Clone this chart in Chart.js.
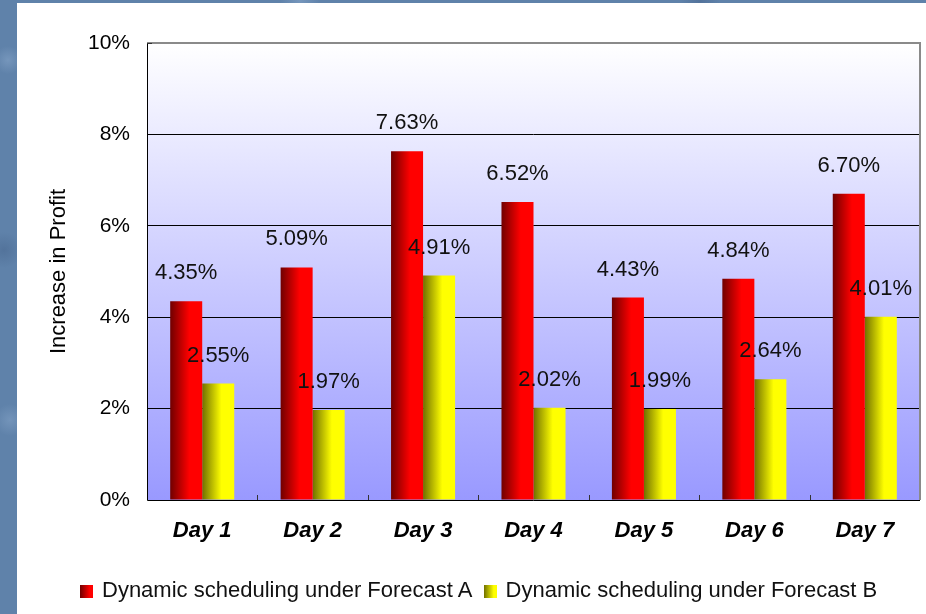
<!DOCTYPE html>
<html>
<head>
<meta charset="utf-8">
<script src="https://cdn.jsdelivr.net/npm/chart.js@4.4.1/dist/chart.umd.min.js"></script>
<style>
  html, body { margin: 0; padding: 0; }
  body {
    width: 926px; height: 614px; overflow: hidden; position: relative;
    background-color: #5f82aa;
    background-image:
      radial-gradient(circle at 8px 60px, rgba(140,170,205,0.5), transparent 14px),
      radial-gradient(circle at 4px 250px, rgba(70,100,140,0.5), transparent 18px),
      radial-gradient(circle at 10px 420px, rgba(140,170,205,0.45), transparent 16px),
      radial-gradient(circle at 300px 1px, rgba(140,170,205,0.5), transparent 20px),
      radial-gradient(circle at 700px 1px, rgba(70,100,140,0.5), transparent 20px);
  }
  #panel {
    position: absolute; left: 17px; top: 3px; right: 0; bottom: 0;
    background: #fff;
  }
  #wrap { position: absolute; left: 0; top: 0; width: 926px; height: 614px; }
  #legend {
    position: absolute; left: 80px; top: 577px;
    font-family: "Liberation Sans", Arial, sans-serif; font-size: 22px; color: #111;
    white-space: nowrap;
  }
  #legend span.box {
    display: inline-block; width: 13px; height: 13px; margin-right: 9px;
    vertical-align: -1px;
  }
  #legend span.item { margin-right: 11px; }
</style>
</head>
<body>
<div id="panel"></div>
<div id="wrap"><canvas id="myChart" width="926" height="614"></canvas></div>
<div id="legend"></div>
<script>
const days = ['Day 1', 'Day 2', 'Day 3', 'Day 4', 'Day 5', 'Day 6', 'Day 7'];
const forecastA = [4.35, 5.09, 7.63, 6.52, 4.43, 4.84, 6.70];
const forecastB = [2.55, 1.97, 4.91, 2.02, 1.99, 2.64, 4.01];
const seriesNames = ['Dynamic scheduling under Forecast A', 'Dynamic scheduling under Forecast B'];
const seriesShades = [['#700000', '#ff0000'], ['#707000', '#ffff00']];

const CAT_PCT = 0.58;
const FONT = '"Liberation Sans", Arial, sans-serif';

// left-to-right shading of each bar, built from the x scale
function barFill(dark, light) {
  return (ctx) => {
    const chart = ctx.chart;
    const area = chart.chartArea;
    if (!area || ctx.type !== 'data') return light;
    const xs = chart.scales.x;
    const center = xs.getPixelForValue(ctx.dataIndex);
    const w = (area.width / days.length) * CAT_PCT / 2;
    const left = ctx.datasetIndex === 0 ? center - w : center;
    const g = chart.ctx.createLinearGradient(left, 0, left + w, 0);
    g.addColorStop(0, dark);
    g.addColorStop(0.6, light);
    g.addColorStop(1, light);
    return g;
  };
}

const plotBackground = {
  id: 'plotBackground',
  beforeDraw(chart) {
    const {ctx, chartArea: a} = chart;
    const g = ctx.createLinearGradient(0, a.top, 0, a.bottom);
    g.addColorStop(0, '#ffffff');
    g.addColorStop(1, '#9999ff');
    ctx.save();
    ctx.fillStyle = g;
    ctx.fillRect(a.left, a.top, a.width, a.height);
    ctx.restore();
  },
  afterDraw(chart) {
    const {ctx, chartArea: a} = chart;
    const xs = chart.scales.x;
    ctx.save();
    // grey frame on top and right
    ctx.strokeStyle = '#8a8a8a';
    ctx.lineWidth = 2;
    ctx.beginPath();
    ctx.moveTo(a.left, a.top);
    ctx.lineTo(a.right, a.top);
    ctx.lineTo(a.right, a.bottom);
    ctx.stroke();
    // black axes
    ctx.strokeStyle = '#000';
    ctx.lineWidth = 1;
    ctx.beginPath();
    ctx.moveTo(a.left + 0.5, a.top);
    ctx.lineTo(a.left + 0.5, a.bottom + 0.5);
    ctx.lineTo(a.right, a.bottom + 0.5);
    ctx.stroke();
    // small inner ticks between categories
    ctx.strokeStyle = '#333';
    ctx.beginPath();
    for (let i = 1; i < days.length; i++) {
      const x = Math.round((xs.getPixelForValue(i - 1) + xs.getPixelForValue(i)) / 2) + 0.5;
      ctx.moveTo(x, a.bottom);
      ctx.lineTo(x, a.bottom - 5);
    }
    ctx.moveTo(a.left, a.top + 0.5);
    ctx.lineTo(a.left + 5, a.top + 0.5);
    ctx.stroke();
    ctx.restore();
  }
};

const valueLabels = {
  id: 'valueLabels',
  afterDatasetsDraw(chart) {
    const ctx = chart.ctx;
    ctx.save();
    ctx.font = '22px ' + FONT;
    ctx.fillStyle = '#111';
    ctx.textAlign = 'center';
    ctx.textBaseline = 'middle';
    chart.data.datasets.forEach((ds, di) => {
      chart.getDatasetMeta(di).data.forEach((el, i) => {
        ctx.fillText(ds.data[i].toFixed(2) + '%', el.x, el.y - 28);
      });
    });
    ctx.restore();
  }
};

new Chart(document.getElementById('myChart'), {
  type: 'bar',
  data: {
    labels: days,
    datasets: [
      {
        label: seriesNames[0],
        data: forecastA,
        backgroundColor: barFill(seriesShades[0][0], seriesShades[0][1]),
        categoryPercentage: CAT_PCT,
        barPercentage: 1
      },
      {
        label: seriesNames[1],
        data: forecastB,
        backgroundColor: barFill(seriesShades[1][0], seriesShades[1][1]),
        categoryPercentage: CAT_PCT,
        barPercentage: 1
      }
    ]
  },
  options: {
    responsive: false,
    animation: false,
    layout: { padding: { left: 29, top: 43, right: 6, bottom: 54 } },
    plugins: {
      legend: { display: false },
      tooltip: { enabled: false }
    },
    scales: {
      x: {
        grid: { display: false, drawTicks: false },
        border: { display: false },
        ticks: {
          padding: 18,
          color: '#000',
          font: { family: FONT, size: 22, weight: 'bold', style: 'italic' }
        },
        afterFit(scale) { scale.height = 60; }
      },
      y: {
        min: 0,
        max: 10,
        ticks: {
          stepSize: 2,
          padding: 17,
          color: '#000',
          font: { family: FONT, size: 21 },
          callback: (v) => v + '%'
        },
        grid: {
          drawTicks: false,
          color: (c) => (c.tick.value > 0 && c.tick.value < 10) ? '#000' : 'rgba(0,0,0,0)',
          lineWidth: 1
        },
        border: { display: false },
        title: {
          display: true,
          text: 'Increase in Profit',
          color: '#000',
          padding: { top: 17, bottom: 0 },
          font: { family: FONT, size: 22 }
        },
        afterFit(scale) { scale.width = 118; }
      }
    }
  },
  plugins: [plotBackground, valueLabels]
});

// legend row with shaded swatches
const legend = document.getElementById('legend');
seriesNames.forEach((name, i) => {
  const item = document.createElement('span');
  item.className = 'item';
  const box = document.createElement('span');
  box.className = 'box';
  box.style.background = 'linear-gradient(to right, ' + seriesShades[i][0] + ', ' + seriesShades[i][1] + ' 75%)';
  item.appendChild(box);
  item.appendChild(document.createTextNode(name));
  legend.appendChild(item);
});
</script>
</body>
</html>
